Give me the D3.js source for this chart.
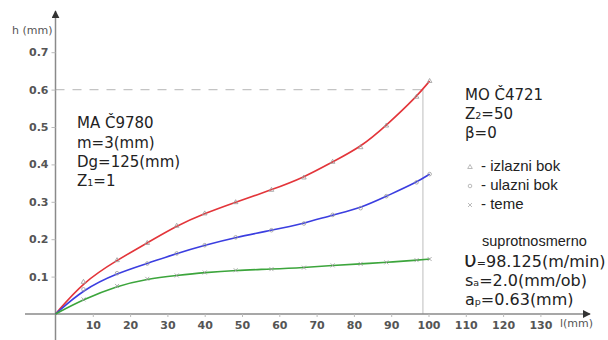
<!DOCTYPE html>
<html><head><meta charset="utf-8">
<script src="https://cdn.jsdelivr.net/npm/d3@7"></script>
<style>body{margin:0;background:#fff}svg{display:block}text{font-family:"DejaVu Sans",Verdana,sans-serif}</style>
</head><body><svg id="c" width="608" height="340"></svg>
<script>
const L     = [0, 7.5, 16.5, 24.6, 32.5, 40, 48.3, 57.9, 66.6, 74.3, 81.8, 88.7, 96.8, 100.3];
const red   = [0, 0.086, 0.144, 0.190, 0.236, 0.269, 0.299, 0.332, 0.365, 0.407, 0.446, 0.504, 0.581, 0.623];
const blue  = [0, 0.066, 0.109, 0.135, 0.162, 0.184, 0.205, 0.224, 0.242, 0.265, 0.283, 0.315, 0.352, 0.374];
const green = [0, 0.039, 0.075, 0.094, 0.103, 0.111, 0.117, 0.120, 0.124, 0.130, 0.134, 0.138, 0.144, 0.147];
const xTicks = [10,20,30,40,50,60,70,80,90,100,110,120,130];
const yTicks = [0.1,0.2,0.3,0.4,0.5,0.6,0.7];
const refH = 0.6, refL = 98.5;

const svg = d3.select("#c");
const x = d3.scaleLinear().domain([0,140]).range([55.5, 577.7]);
const y = d3.scaleLinear().domain([0,0.7]).range([314, 52.2]);
const axisCol = "#8a8a8a";

const defs = svg.append("defs");
defs.append("marker").attr("id","arr").attr("viewBox","0 0 10 10").attr("refX",9).attr("refY",5)
  .attr("markerWidth",8).attr("markerHeight",8).attr("markerUnits","userSpaceOnUse").attr("orient","auto")
  .append("path").attr("d","M0,0L10,5L0,10Z").attr("fill","#333");

svg.append("line").attr("x1",x(0)).attr("x2",x(refL)).attr("y1",y(refH)).attr("y2",y(refH))
  .attr("stroke","#c4c4c4").attr("stroke-width",1.2).attr("stroke-dasharray","9,8");
svg.append("line").attr("x1",x(refL)).attr("x2",x(refL)).attr("y1",y(refH)).attr("y2",y(0))
  .attr("stroke","#c8c8c8").attr("stroke-width",1.2);

svg.append("line").attr("x1",25).attr("x2",590).attr("y1",y(0)).attr("y2",y(0))
  .attr("stroke",axisCol).attr("stroke-width",1.5).attr("marker-end","url(#arr)");
svg.append("line").attr("x1",x(0)).attr("x2",x(0)).attr("y1",340).attr("y2",11)
  .attr("stroke",axisCol).attr("stroke-width",1.5).attr("marker-end","url(#arr)");

const gx = svg.append("g").attr("transform",`translate(0,${y(0)})`)
  .call(d3.axisBottom(x).tickValues(xTicks).tickSize(3).tickPadding(4).tickFormat(d3.format("d")));
const gy = svg.append("g").attr("transform",`translate(${x(0)},0)`)
  .call(d3.axisLeft(y).tickValues(yTicks).tickSize(4).tickPadding(3).tickFormat(d3.format(".1f")));
[gx,gy].forEach(g=>{
  g.select(".domain").remove();
  g.selectAll(".tick line").attr("stroke","#bbb");
  g.selectAll(".tick text").attr("fill","#555").attr("font-size",11).attr("font-weight","bold")
    .style("font-family","'DejaVu Sans',sans-serif");
});

svg.append("text").attr("x",12).attr("y",34).attr("font-size",11).attr("fill","#555").text("h (mm)");
svg.append("text").attr("x",560).attr("y",327).attr("font-size",11).attr("fill","#555").text("l(mm)");

const series = [
  {v:red,   c:"#e3353a", m:"tri"},
  {v:blue,  c:"#3b3ee0", m:"circ"},
  {v:green, c:"#3ca53c", m:"x"}
];
const line = d3.line().x(d=>x(d[0])).y(d=>y(d[1])).curve(d3.curveBasis);
series.forEach(s=>{
  const pts = L.map((l,i)=>[l,s.v[i]]);
  svg.append("path").datum(pts).attr("d",line).attr("fill","none").attr("stroke",s.c).attr("stroke-width",1.6);
  const g = svg.append("g").attr("fill","none").attr("stroke","#9a9a9a").attr("stroke-width",0.8);
  pts.slice(1).forEach(p=>{
    const cx=x(p[0]), cy=y(p[1]);
    if(s.m==="tri") g.append("path").attr("d",`M${cx},${cy-2.5}L${cx+2.3},${cy+1.5}L${cx-2.3},${cy+1.5}Z`);
    else if(s.m==="circ") g.append("circle").attr("cx",cx).attr("cy",cy).attr("r",1.8);
    else g.append("path").attr("d",`M${cx-2},${cy-2}L${cx+2},${cy+2}M${cx-2},${cy+2}L${cx+2},${cy-2}`);
  });
});

const tc="#222";
function ln(xp,yp,parts,fs,fam){
  const t=svg.append("text").attr("x",xp).attr("y",yp).attr("font-size",fs).attr("fill",tc);
  if(fam) t.style("font-family",fam);
  parts.forEach(p=>{
    if(typeof p==="string") t.append("tspan").text(p);
    else t.append("tspan").attr("font-size",p.fs).text(p.t);
  });
}
ln(77,128,["MA Č9780"],15);
ln(77,148,["m=3(mm)"],15);
ln(77,167,["Dg=125(mm)"],15);
ln(77,186,["Z",{t:"1",fs:9.5},"=1"],15);

ln(465,100,["MO Č4721"],15);
ln(465,119,["Z",{t:"2",fs:9.5},"=50"],15);
ln(465,138,["β=0"],15);

const leg=[{m:"tri",t:"- izlazni bok",yy:166},{m:"circ",t:"- ulazni bok",yy:185},{m:"x",t:"- teme",yy:204}];
leg.forEach(d=>{
  const cx=470, cy=d.yy+1;
  const g=svg.append("g").attr("fill","none").attr("stroke","#aaa").attr("stroke-width",0.8);
  if(d.m==="tri") g.append("path").attr("d",`M${cx},${cy-2.5}L${cx+2.3},${cy+1.5}L${cx-2.3},${cy+1.5}Z`);
  else if(d.m==="circ") g.append("circle").attr("cx",cx).attr("cy",cy).attr("r",1.8);
  else g.append("path").attr("d",`M${cx-2},${cy-2}L${cx+2},${cy+2}M${cx-2},${cy+2}L${cx+2},${cy-2}`);
  svg.append("text").attr("x",481).attr("y",d.yy+5).attr("font-size",15).attr("fill",tc)
    .style("font-family","'Liberation Sans',Arial,sans-serif").text(d.t);
});

ln(482,246,["suprotnosmerno"],14.5,"'Liberation Sans',Arial,sans-serif");
const t2=svg.append("text").attr("x",464).attr("y",267).attr("fill",tc).attr("font-size",16);
t2.append("tspan").attr("font-size",22).text("υ");
t2.append("tspan").attr("font-size",11).text("=");
t2.append("tspan").text("98.125(m/min)");
ln(465,286,["s",{t:"a",fs:9.5},"=2.0(mm/ob)"],16);
ln(465,305,["a",{t:"p",fs:9.5},"=0.63(mm)"],16);
</script></body></html>
